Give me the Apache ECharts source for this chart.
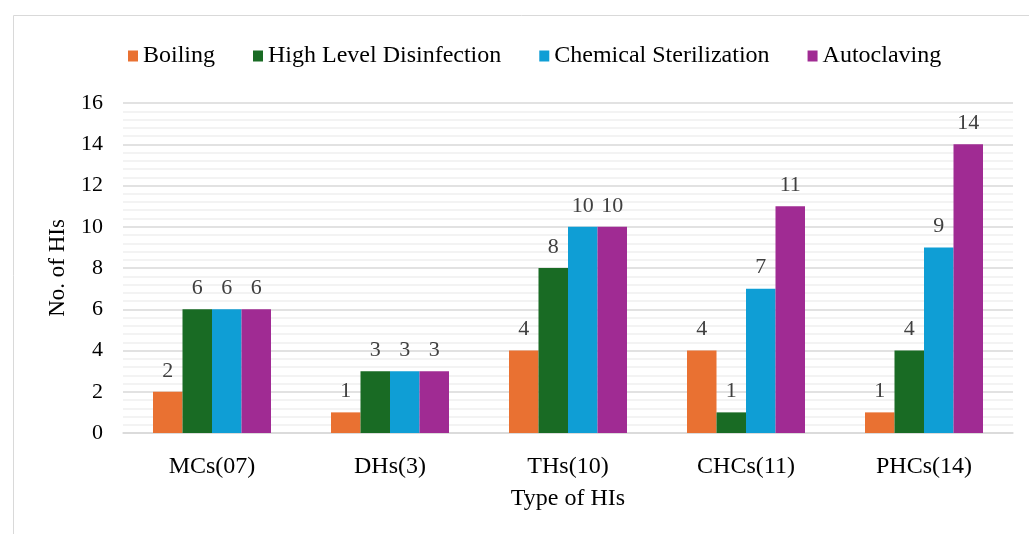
<!DOCTYPE html>
<html>
<head>
<meta charset="utf-8">
<script src="https://cdn.jsdelivr.net/npm/echarts@6/dist/echarts.min.js"></script>
<style>
  html, body { margin: 0; padding: 0; background: #fff; }
  #chart { width: 1029px; height: 534px; }
</style>
</head>
<body>
<div id="chart"></div>
<script>
// data
const categories = ['MCs(07)', 'DHs(3)', 'THs(10)', 'CHCs(11)', 'PHCs(14)']
const boiling = [2, 1, 4, 4, 1]
const highLevel = [6, 3, 8, 1, 4]
const chemical = [6, 3, 10, 7, 9]
const autoclaving = [6, 3, 10, 11, 14]
const seriesNames = ['Boiling', 'High Level Disinfection', 'Chemical Sterilization', 'Autoclaving']

const font = 'Liberation Serif, Times New Roman, serif'

function bar(name, data) {
  return {
    name: name,
    type: 'bar',
    data: data,
    barWidth: 29.5,
    barGap: '0%',
    label: {
      show: true,
      position: 'top',
      distance: 10,
      color: '#404040',
      fontFamily: font,
      fontSize: 22
    }
  }
}

const myChart = echarts.init(document.getElementById('chart'))
myChart.setOption({
  animation: false,
  color: ['#E97132', '#196B24', '#0F9ED5', '#A02B93'],
  graphic: [{
    type: 'rect',
    shape: { x: 13.5, y: 15.5, width: 1040, height: 540 },
    style: { fill: 'none', stroke: '#d9d9d9', lineWidth: 1 },
    silent: true
  }],
  legend: {
    data: seriesNames,
    top: 39,
    left: 123,
    itemWidth: 10,
    itemHeight: 11,
    itemGap: 38,
    icon: 'rect',
    textStyle: { fontFamily: font, fontSize: 24, color: '#000' }
  },
  grid: { left: 123, right: 16, top: 103, bottom: 101 },
  xAxis: {
    type: 'category',
    data: categories,
    name: 'Type of HIs',
    nameLocation: 'middle',
    nameGap: 54,
    nameTextStyle: { fontFamily: font, fontSize: 24, color: '#000' },
    axisTick: { show: false },
    axisLine: { lineStyle: { color: '#d9d9d9', width: 1.5 } },
    axisLabel: { fontFamily: font, fontSize: 24, color: '#000', margin: 22 }
  },
  yAxis: {
    type: 'value',
    min: 0,
    max: 16,
    interval: 2,
    name: 'No. of HIs',
    nameLocation: 'middle',
    nameGap: 54,
    nameTextStyle: { fontFamily: font, fontSize: 23, color: '#000' },
    axisLabel: { fontFamily: font, fontSize: 22, color: '#000', margin: 20 },
    splitLine: { lineStyle: { color: '#d9d9d9', width: 1.5 } },
    minorTick: { show: false, splitNumber: 5 },
    minorSplitLine: { show: true, lineStyle: { color: '#efefef', width: 1.5 } }
  },
  series: [
    bar(seriesNames[0], boiling),
    bar(seriesNames[1], highLevel),
    bar(seriesNames[2], chemical),
    bar(seriesNames[3], autoclaving)
  ]
})
</script>
</body>
</html>
